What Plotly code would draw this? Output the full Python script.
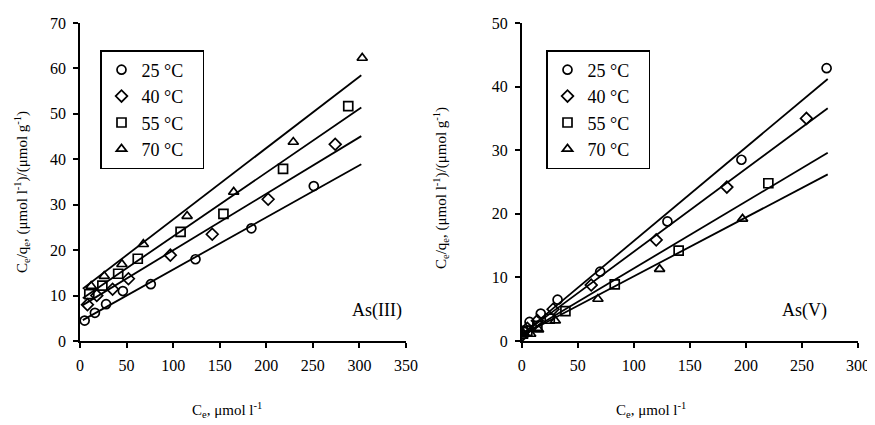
import plotly.graph_objects as go

# ---------------- data ----------------
temps = ["25 °C", "40 °C", "55 °C", "70 °C"]
symbols = ["circle-open", "diamond-open", "square-open", "triangle-up-open"]

# As(III)
as3_x25 = [5, 16, 28, 46, 76, 124, 184, 251]
as3_y25 = [4.5, 6.2, 8.1, 11.0, 12.5, 18.0, 24.8, 34.1]
as3_x40 = [8, 18, 35, 52, 97, 142, 202, 274]
as3_y40 = [8.0, 10.0, 11.4, 13.7, 18.9, 23.5, 31.2, 43.3]
as3_x55 = [10, 24, 41, 62, 108, 154, 218, 288]
as3_y55 = [10.3, 12.2, 14.8, 18.1, 24.0, 28.0, 37.9, 51.7]
as3_x70 = [12, 26, 45, 68, 115, 165, 229, 303]
as3_y70 = [12.1, 14.3, 16.9, 21.3, 27.5, 32.8, 43.8, 62.3]
as3_fit_x = [3, 302]
as3_fit_y25 = [4.6, 38.9]
as3_fit_y40 = [7.9, 45.1]
as3_fit_y55 = [9.4, 51.4]
as3_fit_y70 = [11.5, 58.5]

# As(V)
as5_x25 = [2, 7, 17, 32, 70, 130, 196, 272]
as5_y25 = [1.5, 3.0, 4.3, 6.5, 10.9, 18.8, 28.5, 42.9]
as5_x40 = [1, 5, 14, 28, 62, 120, 183, 254]
as5_y40 = [1.0, 2.0, 3.2, 5.0, 8.8, 15.9, 24.2, 35.0]
as5_x55 = [1, 5, 14, 25, 39, 83, 140, 220]
as5_y55 = [1.4, 1.6, 2.4, 3.5, 4.7, 8.9, 14.2, 24.8]
as5_x70 = [1, 8, 15, 30, 68, 123, 197]
as5_y70 = [0.8, 1.1, 1.8, 3.2, 6.6, 11.3, 19.2]
as5_fit_x = [0, 273]
as5_fit_y25 = [1.0, 41.2]
as5_fit_y40 = [1.0, 36.6]
as5_fit_y55 = [0.9, 29.6]
as5_fit_y70 = [0.9, 26.2]

x_ticks_left = [0, 50, 100, 150, 200, 250, 300, 350]
x_ticks_right = [0, 50, 100, 150, 200, 250, 300]
y_ticks_left = [0, 10, 20, 30, 40, 50, 60, 70]
y_ticks_right = [0, 10, 20, 30, 40, 50]

FONT = "Liberation Serif"

fig = go.Figure()

panels = [
    ("x", "y", "legend",
     [as3_x25, as3_x40, as3_x55, as3_x70],
     [as3_y25, as3_y40, as3_y55, as3_y70],
     as3_fit_x, [as3_fit_y25, as3_fit_y40, as3_fit_y55, as3_fit_y70]),
    ("x2", "y2", "legend2",
     [as5_x25, as5_x40, as5_x55, as5_x70],
     [as5_y25, as5_y40, as5_y55, as5_y70],
     as5_fit_x, [as5_fit_y25, as5_fit_y40, as5_fit_y55, as5_fit_y70]),
]

PAD = "\u00a0\u00a0\u00a0"
for xa, ya, lg, xs, ys, fx, fys in panels:
    for fy in fys:
        fig.add_trace(go.Scatter(x=fx, y=fy, mode="lines", xaxis=xa, yaxis=ya,
                                 line=dict(color="black", width=1.8),
                                 showlegend=False, hoverinfo="skip"))
    for i in range(4):
        fig.add_trace(go.Scatter(x=xs[i], y=ys[i], mode="markers", xaxis=xa, yaxis=ya,
                                 name=temps[i] + PAD, legend=lg,
                                 marker=dict(symbol=symbols[i], size=9, color="black",
                                             line=dict(width=1.7, color="black"))))

axis_common = dict(showline=True, linecolor="black", linewidth=1.5, ticks="outside",
                   ticklen=5, tickwidth=1.5, tickcolor="black", showgrid=False,
                   zeroline=False, tickfont=dict(family=FONT, size=16, color="black"),
                   ticklabelstandoff=4, automargin=False)

# the page body adds an 8 px offset; target coordinates are in window pixels
OFF = 8
W, H = 875 - OFF, 425 - OFF
L, R, T, B = 80 - OFF, 17, 23 - OFF, 84
pw = W - L - R
ph = H - T - B

def px_x(p):
    return (p - OFF - L) / pw

def px_y(p):
    return (H - B - (p - OFF)) / ph

legend_common = dict(xanchor="left", yanchor="top",
                     bordercolor="black", borderwidth=1.5, bgcolor="white",
                     font=dict(family=FONT, size=18, color="black"),
                     tracegroupgap=0, itemwidth=30)

fig.update_layout(
    width=W, height=H,
    margin=dict(l=L, r=R, t=T, b=B, pad=0, autoexpand=False),
    paper_bgcolor="white", plot_bgcolor="white",
    font=dict(family=FONT, size=16, color="black"),
    xaxis=dict(domain=[0, px_x(406)], range=[0, 350], tickvals=x_ticks_left,
               anchor="y", **axis_common),
    yaxis=dict(domain=[0, 1], range=[0, 70], tickvals=y_ticks_left,
               anchor="x", **axis_common),
    xaxis2=dict(domain=[px_x(521.7), 1], range=[0, 300], tickvals=x_ticks_right,
                anchor="y2", **axis_common),
    yaxis2=dict(domain=[0, 1], range=[0, 50], tickvals=y_ticks_right,
                anchor="x2", **axis_common),
    legend=dict(x=px_x(100), y=px_y(50), **legend_common),
    legend2=dict(x=px_x(546), y=px_y(50), **legend_common),
    showlegend=True,
)

ytitle = "C<sub>e</sub>/q<sub>e</sub>, (μmol l<sup>-1</sup>)/(μmol g<sup>-1</sup>)"
xtitle = "C<sub>e</sub>, μmol l<sup>-1</sup>"

annots = [
    dict(x=px_x(22), y=px_y(192), text=ytitle, textangle=-90),
    dict(x=px_x(441), y=px_y(188), text=ytitle, textangle=-90),
    dict(x=px_x(227), y=px_y(410), text=xtitle),
    dict(x=px_x(651), y=px_y(410), text=xtitle),
]
for a in annots:
    fig.add_annotation(xref="paper", yref="paper", showarrow=False,
                       xanchor="center", yanchor="middle",
                       font=dict(family=FONT, size=15, color="black"), **a)

fig.add_annotation(xref="paper", yref="paper", x=px_x(404), y=px_y(310),
                   text="As(III)", showarrow=False, xanchor="right", yanchor="middle",
                   font=dict(family=FONT, size=18, color="black"))
fig.add_annotation(xref="paper", yref="paper", x=px_x(829), y=px_y(310),
                   text="As(V)", showarrow=False, xanchor="right", yanchor="middle",
                   font=dict(family=FONT, size=18, color="black"))

fig.write_html("out.html")
